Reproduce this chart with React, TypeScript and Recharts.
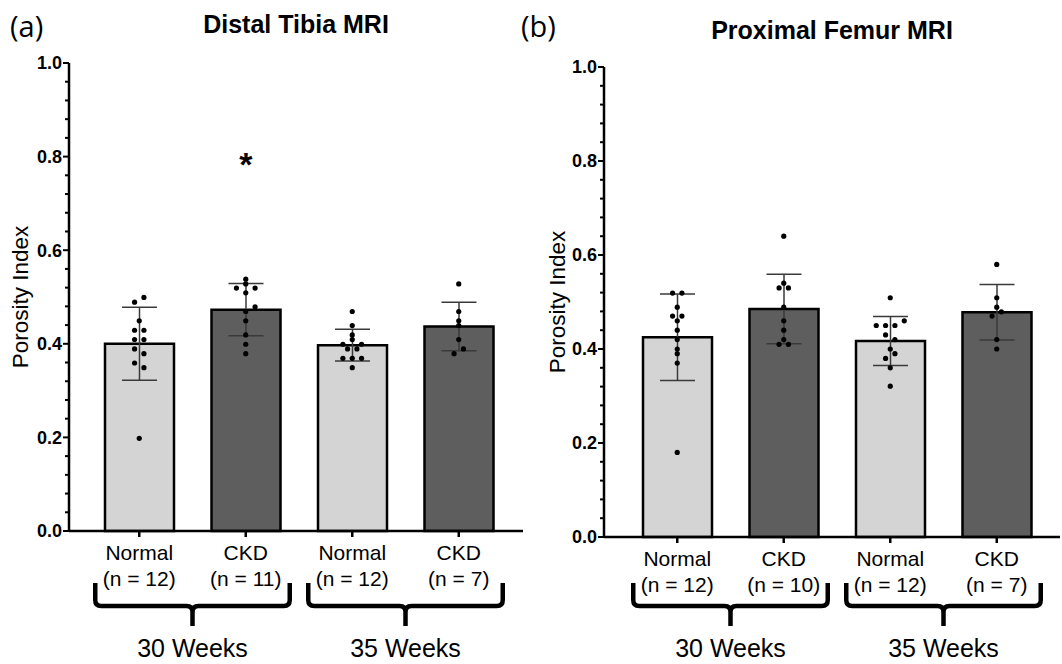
import React from 'react';
import {
  ComposedChart,
  Bar,
  Cell,
  ErrorBar,
  Scatter,
  XAxis,
  YAxis,
  ReferenceLine,
  ReferenceDot,
} from 'recharts';

// ---------------- data ----------------
const categories = ['Normal-30', 'CKD-30', 'Normal-35', 'CKD-35'];
const groupNames = ['Normal', 'CKD', 'Normal', 'CKD'];
const weekLabels = ['30 Weeks', '35 Weeks'];
const yTicks = [
  0, 0.04, 0.08, 0.12, 0.16, 0.2, 0.24, 0.28, 0.32, 0.36, 0.4, 0.44, 0.48, 0.52,
  0.56, 0.6, 0.64, 0.68, 0.72, 0.76, 0.8, 0.84, 0.88, 0.92, 0.96, 1.0,
];

// (a) Distal Tibia MRI
const tibiaN = [12, 11, 12, 7];
const tibiaMeans = [0.4, 0.473, 0.397, 0.437];
const tibiaSD = [0.078, 0.056, 0.034, 0.052];
const tibiaNormal30 = [0.489, 0.499, 0.449, 0.429, 0.429, 0.409, 0.409, 0.389, 0.379, 0.359, 0.349, 0.198];
const tibiaCKD30 = [0.538, 0.528, 0.519, 0.519, 0.509, 0.479, 0.469, 0.449, 0.419, 0.399, 0.379];
const tibiaNormal35 = [0.469, 0.439, 0.419, 0.409, 0.399, 0.399, 0.389, 0.389, 0.369, 0.369, 0.369, 0.349];
const tibiaCKD35 = [0.528, 0.469, 0.449, 0.439, 0.409, 0.389, 0.379];
// beeswarm column of each dot
const tibiaSlots = [
  [-1, 1, 0, -1, 1, -1, 1, -1, 1, -1, 1, 0],
  [0, 0, -2, 2, 0, 2, 0, 0, 0, 0, 0],
  [0, 0, 0, 0, -2, 2, -1, 1, -2, 0, 2, 0],
  [0, 0, 0, 0, 0, 1, -1],
];
const tibiaSignificance = [{ cat: 'CKD-30', value: 0.8, mark: '*' }];

// (b) Proximal Femur MRI
const femurN = [12, 10, 12, 7];
const femurMeans = [0.425, 0.485, 0.417, 0.478];
const femurSD = [0.092, 0.074, 0.052, 0.059];
const femurNormal30 = [0.519, 0.519, 0.489, 0.47, 0.47, 0.46, 0.44, 0.42, 0.4, 0.39, 0.37, 0.18];
const femurCKD30 = [0.64, 0.54, 0.53, 0.53, 0.489, 0.46, 0.44, 0.42, 0.41, 0.41];
const femurNormal35 = [0.509, 0.46, 0.45, 0.45, 0.45, 0.43, 0.42, 0.4, 0.39, 0.38, 0.36, 0.321];
const femurCKD35 = [0.58, 0.509, 0.489, 0.479, 0.47, 0.42, 0.4];
const femurSlots = [
  [-1, 1, 0, -1, 1, 0, 0, 0, 0, 0, 0, 0],
  [0, 0, -1, 1, 0, 0, 0, 0, -1, 1],
  [0, 3, -3, -1, 1, -1, 1, 0, 1, -1, 0, 0],
  [0, 0, 0, 1, -1, 0, 0],
];

// ---------------- helpers ----------------
const FONT = '"Liberation Sans", Arial, Helvetica, sans-serif';
const LIGHT = '#d4d4d4';
const DARK = '#5e5e5e';

const makeBars = (means: number[], sds: number[]) =>
  categories.map((c, i) => ({ cat: c, mean: means[i], sd: sds[i] }));

const makePts = (groups: number[][], slots: number[][]) =>
  groups.flatMap((arr, i) => arr.map((v, j) => ({ cat: categories[i], v, slot: slots[i][j] })));

const YTick = (props: any) => {
  const { x, y, payload } = props;
  const v = payload.value as number;
  const major = Math.abs(v * 5 - Math.round(v * 5)) < 1e-6;
  return (
    <g>
      <line x1={x - (major ? 6 : 4)} x2={x} y1={y} y2={y} stroke="#000" strokeWidth={2} />
      {major && (
        <text
          x={x - 7}
          y={y}
          dy="0.36em"
          textAnchor="end"
          fontSize={18}
          fontWeight="bold"
          fontFamily={FONT}
          fill="#000"
        >
          {v.toFixed(1)}
        </text>
      )}
    </g>
  );
};

const makeXTick = (nLabels: number[]) => (props: any) => {
  const { x, y, payload } = props;
  const i = categories.indexOf(payload.value);
  return (
    <g>
      <text x={x} y={y + 23} textAnchor="middle" fontSize={21} fontFamily={FONT} fill="#000">
        {groupNames[i]}
      </text>
      <text x={x} y={y + 48.5} textAnchor="middle" fontSize={21} fontFamily={FONT} fill="#000">
        {`(n = ${nLabels[i]})`}
      </text>
    </g>
  );
};

const BRACE_TOP = 583;
const BRACE_MID = 606;
const BRACE_BOTTOM = 626;
const WEEK_BASELINE = 657;

const makeBrace = (text: string) => (p: any) => {
  const { x1, x2 } = p;
  const L = x1 - 44;
  const R = x2 + 44;
  const C = (x1 + x2) / 2;
  const d = [
    `M ${L} ${BRACE_TOP} L ${L} ${BRACE_MID - 6} Q ${L} ${BRACE_MID} ${L + 6} ${BRACE_MID}`,
    `L ${C - 6} ${BRACE_MID} Q ${C} ${BRACE_MID} ${C} ${BRACE_MID + 6} L ${C} ${BRACE_BOTTOM}`,
    `M ${C} ${BRACE_MID + 6} Q ${C} ${BRACE_MID} ${C + 6} ${BRACE_MID}`,
    `L ${R - 6} ${BRACE_MID} Q ${R} ${BRACE_MID} ${R} ${BRACE_MID - 6} L ${R} ${BRACE_TOP}`,
  ].join(' ');
  return (
    <g>
      <path d={d} fill="none" stroke="#000" strokeWidth={4.5} strokeLinejoin="round" />
      <text x={C} y={WEEK_BASELINE} textAnchor="middle" fontSize={25} fontFamily={FONT} fill="#000">
        {text}
      </text>
    </g>
  );
};

const DotShape = (p: any) => {
  if (p.cx == null || p.cy == null) return <g />;
  const slot = p.payload && typeof p.payload.slot === 'number' ? p.payload.slot : 0;
  return <circle cx={p.cx + slot * 4.67} cy={p.cy} r={2.6} fill="#000" />;
};

const StarShape = (p: any) => (
  <text
    x={p.cx}
    y={p.cy + 19}
    textAnchor="middle"
    fontSize={34}
    fontWeight="bold"
    fontFamily={FONT}
    fill="#000"
  >
    *
  </text>
);

type PanelProps = {
  width: number;
  margin: { top: number; right: number; bottom: number; left: number };
  yWidth: number;
  pad: { left: number; right: number };
  bars: any[];
  pts: any[];
  nLabels: number[];
  stars?: { cat: string; value: number; mark: string }[];
};

const Panel = ({ width, margin, yWidth, pad, bars, pts, nLabels, stars }: PanelProps) => (
  <ComposedChart width={width} height={664} data={bars} margin={margin}>
    <XAxis
      dataKey="cat"
      type="category"
      allowDuplicatedCategory={false}
      padding={pad}
      height={30}
      interval={0}
      axisLine={{ stroke: '#000', strokeWidth: 2.5 }}
      tickLine={{ stroke: '#000', strokeWidth: 2.5 }}
      tickSize={6}
      tickMargin={0}
      tick={makeXTick(nLabels)}
    />
    <YAxis
      type="number"
      domain={[0, 1]}
      ticks={yTicks}
      interval={0}
      width={yWidth}
      axisLine={{ stroke: '#000', strokeWidth: 2.5 }}
      tickLine={false}
      tickSize={0}
      tickMargin={0}
      tick={YTick}
    />
    <Bar dataKey="mean" barSize={69} stroke="#000" strokeWidth={2.5} isAnimationActive={false}>
      {bars.map((b, i) => (
        <Cell key={b.cat} fill={i % 2 === 0 ? LIGHT : DARK} />
      ))}
      <ErrorBar dataKey="sd" width={17.5} stroke="#3a3a3a" strokeWidth={1.5} direction="y" />
    </Bar>
    <Scatter data={pts} dataKey="v" shape={DotShape} isAnimationActive={false} />
    <ReferenceLine
      segment={[
        { x: categories[0], y: 0 },
        { x: categories[1], y: 0 },
      ]}
      ifOverflow="visible"
      shape={makeBrace(weekLabels[0])}
    />
    <ReferenceLine
      segment={[
        { x: categories[2], y: 0 },
        { x: categories[3], y: 0 },
      ]}
      ifOverflow="visible"
      shape={makeBrace(weekLabels[1])}
    />
    {(stars || []).map((s) => (
      <ReferenceDot key={s.cat} x={s.cat} y={s.value} r={0} shape={StarShape} ifOverflow="visible" />
    ))}
  </ComposedChart>
);

export default function App() {
  const tibiaBars = makeBars(tibiaMeans, tibiaSD);
  const tibiaPts = makePts([tibiaNormal30, tibiaCKD30, tibiaNormal35, tibiaCKD35], tibiaSlots);
  const femurBars = makeBars(femurMeans, femurSD);
  const femurPts = makePts([femurNormal30, femurCKD30, femurNormal35, femurCKD35], femurSlots);

  return (
    <div
      style={{
        position: 'absolute',
        left: 0,
        top: 0,
        width: 1062,
        height: 664,
        background: '#fff',
        fontFamily: FONT,
        overflow: 'hidden',
      }}
    >
      <div style={{ position: 'absolute', left: 0, top: 0 }}>
        <Panel
          width={530}
          margin={{ top: 63, right: 7, bottom: 103, left: 0 }}
          yWidth={69}
          pad={{ left: 17, right: 11 }}
          bars={tibiaBars}
          pts={tibiaPts}
          nLabels={tibiaN}
          stars={tibiaSignificance}
        />
      </div>
      <div style={{ position: 'absolute', left: 530, top: 0 }}>
        <Panel
          width={532}
          margin={{ top: 67, right: 2, bottom: 97, left: 0 }}
          yWidth={74}
          pad={{ left: 20, right: 10 }}
          bars={femurBars}
          pts={femurPts}
          nLabels={femurN}
        />
      </div>
      <svg
        width={1062}
        height={664}
        style={{ position: 'absolute', left: 0, top: 0, pointerEvents: 'none' }}
      >
        <text x={10} y={37} fontSize={29} fontFamily='"Open Sans", sans-serif' fill="#000">
          (a)
        </text>
        <text x={296} y={33} textAnchor="middle" fontSize={25} fontWeight="bold" fontFamily={FONT} fill="#000">
          Distal Tibia MRI
        </text>
        <text x={521} y={37} fontSize={29} fontFamily='"Open Sans", sans-serif' fill="#000">
          (b)
        </text>
        <text x={832} y={39} textAnchor="middle" fontSize={25} fontWeight="bold" fontFamily={FONT} fill="#000">
          Proximal Femur MRI
        </text>
        <text
          x={28}
          y={297}
          transform="rotate(-90 28 297)"
          textAnchor="middle"
          fontSize={22.5}
          fontFamily={FONT}
          fill="#000"
        >
          Porosity Index
        </text>
        <text
          x={565}
          y={302}
          transform="rotate(-90 565 302)"
          textAnchor="middle"
          fontSize={22.5}
          fontFamily={FONT}
          fill="#000"
        >
          Porosity Index
        </text>
      </svg>
    </div>
  );
}
